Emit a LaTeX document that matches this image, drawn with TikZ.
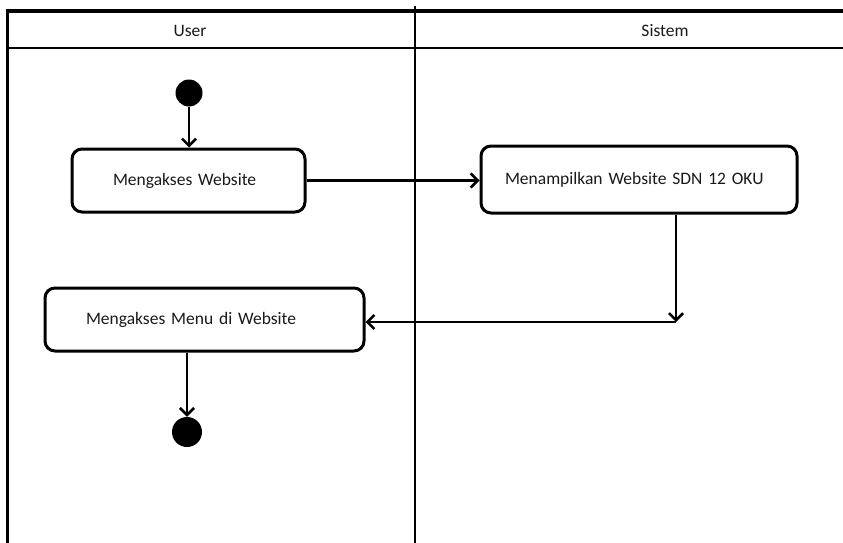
\documentclass[tikz,border=0pt]{standalone}
\usepackage{fontspec}
\setmainfont{Carlito}
\usetikzlibrary{arrows.meta}
\begin{document}
\begin{tikzpicture}[x=1pt,y=-1pt,
  every node/.style={font=\fontsize{17.5}{21}\selectfont, text=black!90},
  lane/.style={line width=2.6pt, black},
  actbox/.style={draw=black, line width=3pt, rounded corners=10pt,
    inner xsep=0pt, inner ysep=0pt, align=left},
  dot/.style={circle, fill=black, draw=none, inner sep=0pt},
  flow/.style={line width=2.6pt, -{Straight Barb[length=7pt,width=14pt,line width=2.6pt]}}
]
\useasboundingbox (0,0) rectangle (843,543);

% swimlane frame
\draw[lane, line width=3.4pt] (6,11) -- (843,11);
\draw[lane] (7,48) -- (843,48);
\draw[lane] (7.5,10) -- (7.5,543);
\draw[lane] (415,6) -- (415,543);

% lane titles
\node (hUser) at (190,31) {User};
\node (hSistem) at (665,31) {Sistem};

% actions and terminal states
\node[dot, minimum size=27pt] (start) at (189,93) {};
\node[actbox, text width=233pt, minimum height=63pt] (akses) at (188.5,180.5)
  {\hspace*{41pt}Mengakses Website};
\node[actbox, text width=316pt, minimum height=67pt] (tampil) at (639,179.5)
  {\hspace*{24pt}Menampilkan Website SDN 12 OKU};
\node[actbox, text width=319pt, minimum height=63pt] (menu) at (204.5,319.5)
  {\hspace*{41pt}Mengakses Menu di Website};
\node[dot, minimum size=30pt] (stop) at (187,432) {};

% control flow
\coordinate (turn) at (676,322);
\draw[flow] (start) -- (akses.north -| start);
\draw[flow] (akses.east) -- (akses.east -| tampil.west);
\draw[flow] (tampil.south -| turn) -- (turn);
\draw[flow] (turn) -- (turn -| menu.east);
\draw[flow] (menu.south -| stop) -- (stop);
\end{tikzpicture}
\end{document}
